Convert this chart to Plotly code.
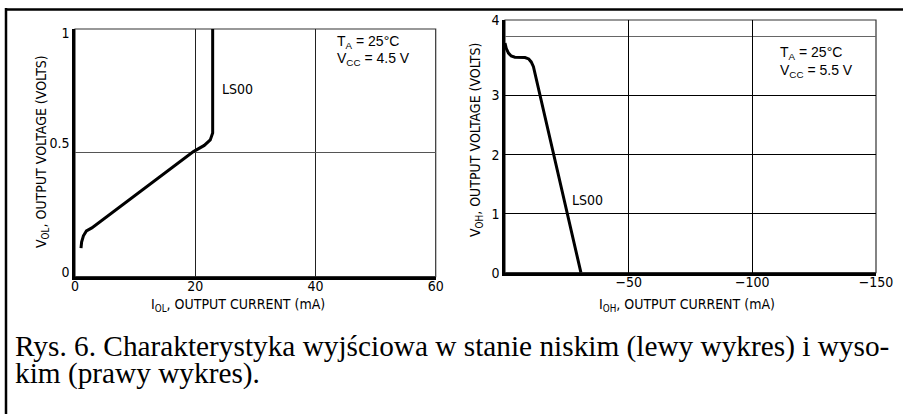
import plotly.graph_objects as go

# ---- data ----
low_current = [1.0, 1.1, 1.4, 1.9, 2.8, 19.7, 21.5, 22.5, 22.9, 22.9, 22.9]
low_voltage = [0.115, 0.14, 0.165, 0.185, 0.197, 0.505, 0.53, 0.552, 0.58, 0.65, 1.0]

high_current = [0, -0.5, -1.4, -2.5, -4.0, -6.0, -8.1, -9.6, -10.6, -11.5, -30.7]
high_voltage = [3.89, 3.80, 3.72, 3.67, 3.65, 3.645, 3.645, 3.62, 3.57, 3.49, 0.0]

left_xticks = [0, 20, 40, 60]
left_xlabels = ["0", "20", "40", "60"]
left_ytick_pos = [0.02, 0.54, 0.985]
left_ylabels = ["0", "0.5", "1"]

right_xticks = [-50, -100, -150]
right_xlabels = ["\u221250", "\u2212100", "\u2212150"]
right_ytick_pos = [0, 1, 2, 3, 4.28]
right_ylabels = ["0", "1", "2", "3", "4"]

caption_line1 = "Rys. 6. Charakterystyka wyjściowa w stanie niskim (lewy wykres) i wyso-"
caption_line2 = "kim (prawy wykres)."

W, H = 903, 414
NARROW = "Liberation Sans Narrow, Arial Narrow, DejaVu Sans Condensed, sans-serif"
SANS = "Liberation Sans, Arial, sans-serif"
SERIF = "Liberation Serif, Times New Roman, serif"


def px_x(p):
    return p / W


def px_y(p):
    return 1 - p / H


fig = go.Figure()
fig.add_trace(go.Scatter(x=low_current, y=low_voltage, mode="lines",
                         line=dict(color="black", width=3), xaxis="x", yaxis="y",
                         showlegend=False, hoverinfo="skip"))
fig.add_trace(go.Scatter(x=high_current, y=high_voltage, mode="lines",
                         line=dict(color="black", width=3), xaxis="x2", yaxis="y2",
                         showlegend=False, hoverinfo="skip"))

tickfont = dict(family=NARROW, size=14, color="black")
axis_common = dict(showline=True, linecolor="black", linewidth=2.5, ticks="",
                   zeroline=False, tickfont=tickfont, fixedrange=True,
                   automargin=False)

fig.update_layout(
    template="none",
    width=W, height=H, margin=dict(l=0, r=0, t=0, b=0, pad=0),
    paper_bgcolor="white", plot_bgcolor="white", showlegend=False,
    xaxis=dict(domain=[px_x(75), px_x(435.7)], range=[0, 60], anchor="y",
               tickmode="array", tickvals=left_xticks, ticktext=left_xlabels,
               showgrid=False, ticklabelstandoff=-5,
               minor=dict(tickmode="array", tickvals=[20, 40], showgrid=True,
                          gridcolor="#222", gridwidth=1.2, ticks=""),
               **axis_common),
    yaxis=dict(domain=[px_y(276.7), px_y(29)], range=[0, 1], anchor="x",
               tickmode="array", tickvals=left_ytick_pos, ticktext=left_ylabels,
               showgrid=False,
               minor=dict(tickmode="array", tickvals=[0.5], showgrid=True,
                          gridcolor="#555", gridwidth=1.2, ticks=""),
               **axis_common),
    xaxis2=dict(domain=[px_x(505), px_x(876)], range=[0, -150], anchor="y2",
                tickmode="array", tickvals=right_xticks, ticktext=right_xlabels,
                showgrid=True, gridcolor="black", gridwidth=1.3, ticklabelstandoff=-5,
                **axis_common),
    yaxis2=dict(domain=[px_y(272.7), px_y(20)], range=[0, 4.28], anchor="x2",
                tickmode="array", tickvals=right_ytick_pos, ticktext=right_ylabels,
                showgrid=True, gridcolor="black", gridwidth=1.3,
                minor=dict(tickmode="array", tickvals=[4], showgrid=True,
                           gridcolor="#666", gridwidth=1.2, ticks=""),
                **axis_common),
)

# thin top/right borders of the plot areas
for xr, yr in (("x domain", "y domain"), ("x2 domain", "y2 domain")):
    fig.add_shape(type="rect", xref=xr, yref=yr, x0=0, x1=1, y0=0, y1=1,
                  line=dict(color="#333", width=1.2), layer="below")

# outer frame (top and left)
fig.add_shape(type="line", xref="paper", yref="paper", x0=px_x(5), x1=1,
              y0=px_y(9.5), y1=px_y(9.5), line=dict(color="black", width=2.5))
fig.add_shape(type="line", xref="paper", yref="paper", x0=px_x(6), x1=px_x(6),
              y0=px_y(8), y1=0, line=dict(color="black", width=2.5))


def note(text, x, y, xref="paper", yref="paper", xanchor="center", yanchor="middle",
         angle=0, family=NARROW, size=14):
    return dict(text=text, x=x, y=y, xref=xref, yref=yref, xanchor=xanchor,
                yanchor=yanchor, textangle=angle, showarrow=False,
                font=dict(family=family, size=size, color="black"))


ann = []
# axis titles
ann.append(note("V<sub>OL</sub>, OUTPUT VOLTAGE (VOLTS)", px_x(42), px_y(152), angle=-90))
ann.append(note("I<sub>OL</sub>, OUTPUT CURRENT (mA)", px_x(238), px_y(305)))
ann.append(note("V<sub>OH</sub>, OUTPUT VOLTAGE (VOLTS)", px_x(476), px_y(140), angle=-90))
ann.append(note("I<sub>OH</sub>, OUTPUT CURRENT (mA)", px_x(687), px_y(305)))
# curve labels
ann.append(note("LS00", 24.2, 0.758, xref="x", yref="y", xanchor="left"))
ann.append(note("LS00", -33.3, 1.23, xref="x2", yref="y2"))
# condition boxes
for x0, y1, y2, vcc in ((335, 42, 59, "4.5"), (778, 53, 71, "5.5")):
    ann.append(note("T<sub>A</sub> = 25\u00b0C", px_x(x0), px_y(y1), xanchor="left",
                    family=SANS, size=14))
    ann.append(note("V<sub>CC</sub> = " + vcc + " V", px_x(x0), px_y(y2), xanchor="left",
                    family=SANS, size=14))
# caption
ann.append(note(caption_line1, px_x(13), px_y(346), xanchor="left", family=SERIF, size=29.3))
ann.append(note(caption_line2, px_x(13), px_y(373), xanchor="left", family=SERIF, size=29.3))
fig.update_layout(annotations=ann)

fig.write_html("out.html", config={"displayModeBar": False},
               post_script="document.body.style.margin='0';document.body.style.overflow='hidden';")
